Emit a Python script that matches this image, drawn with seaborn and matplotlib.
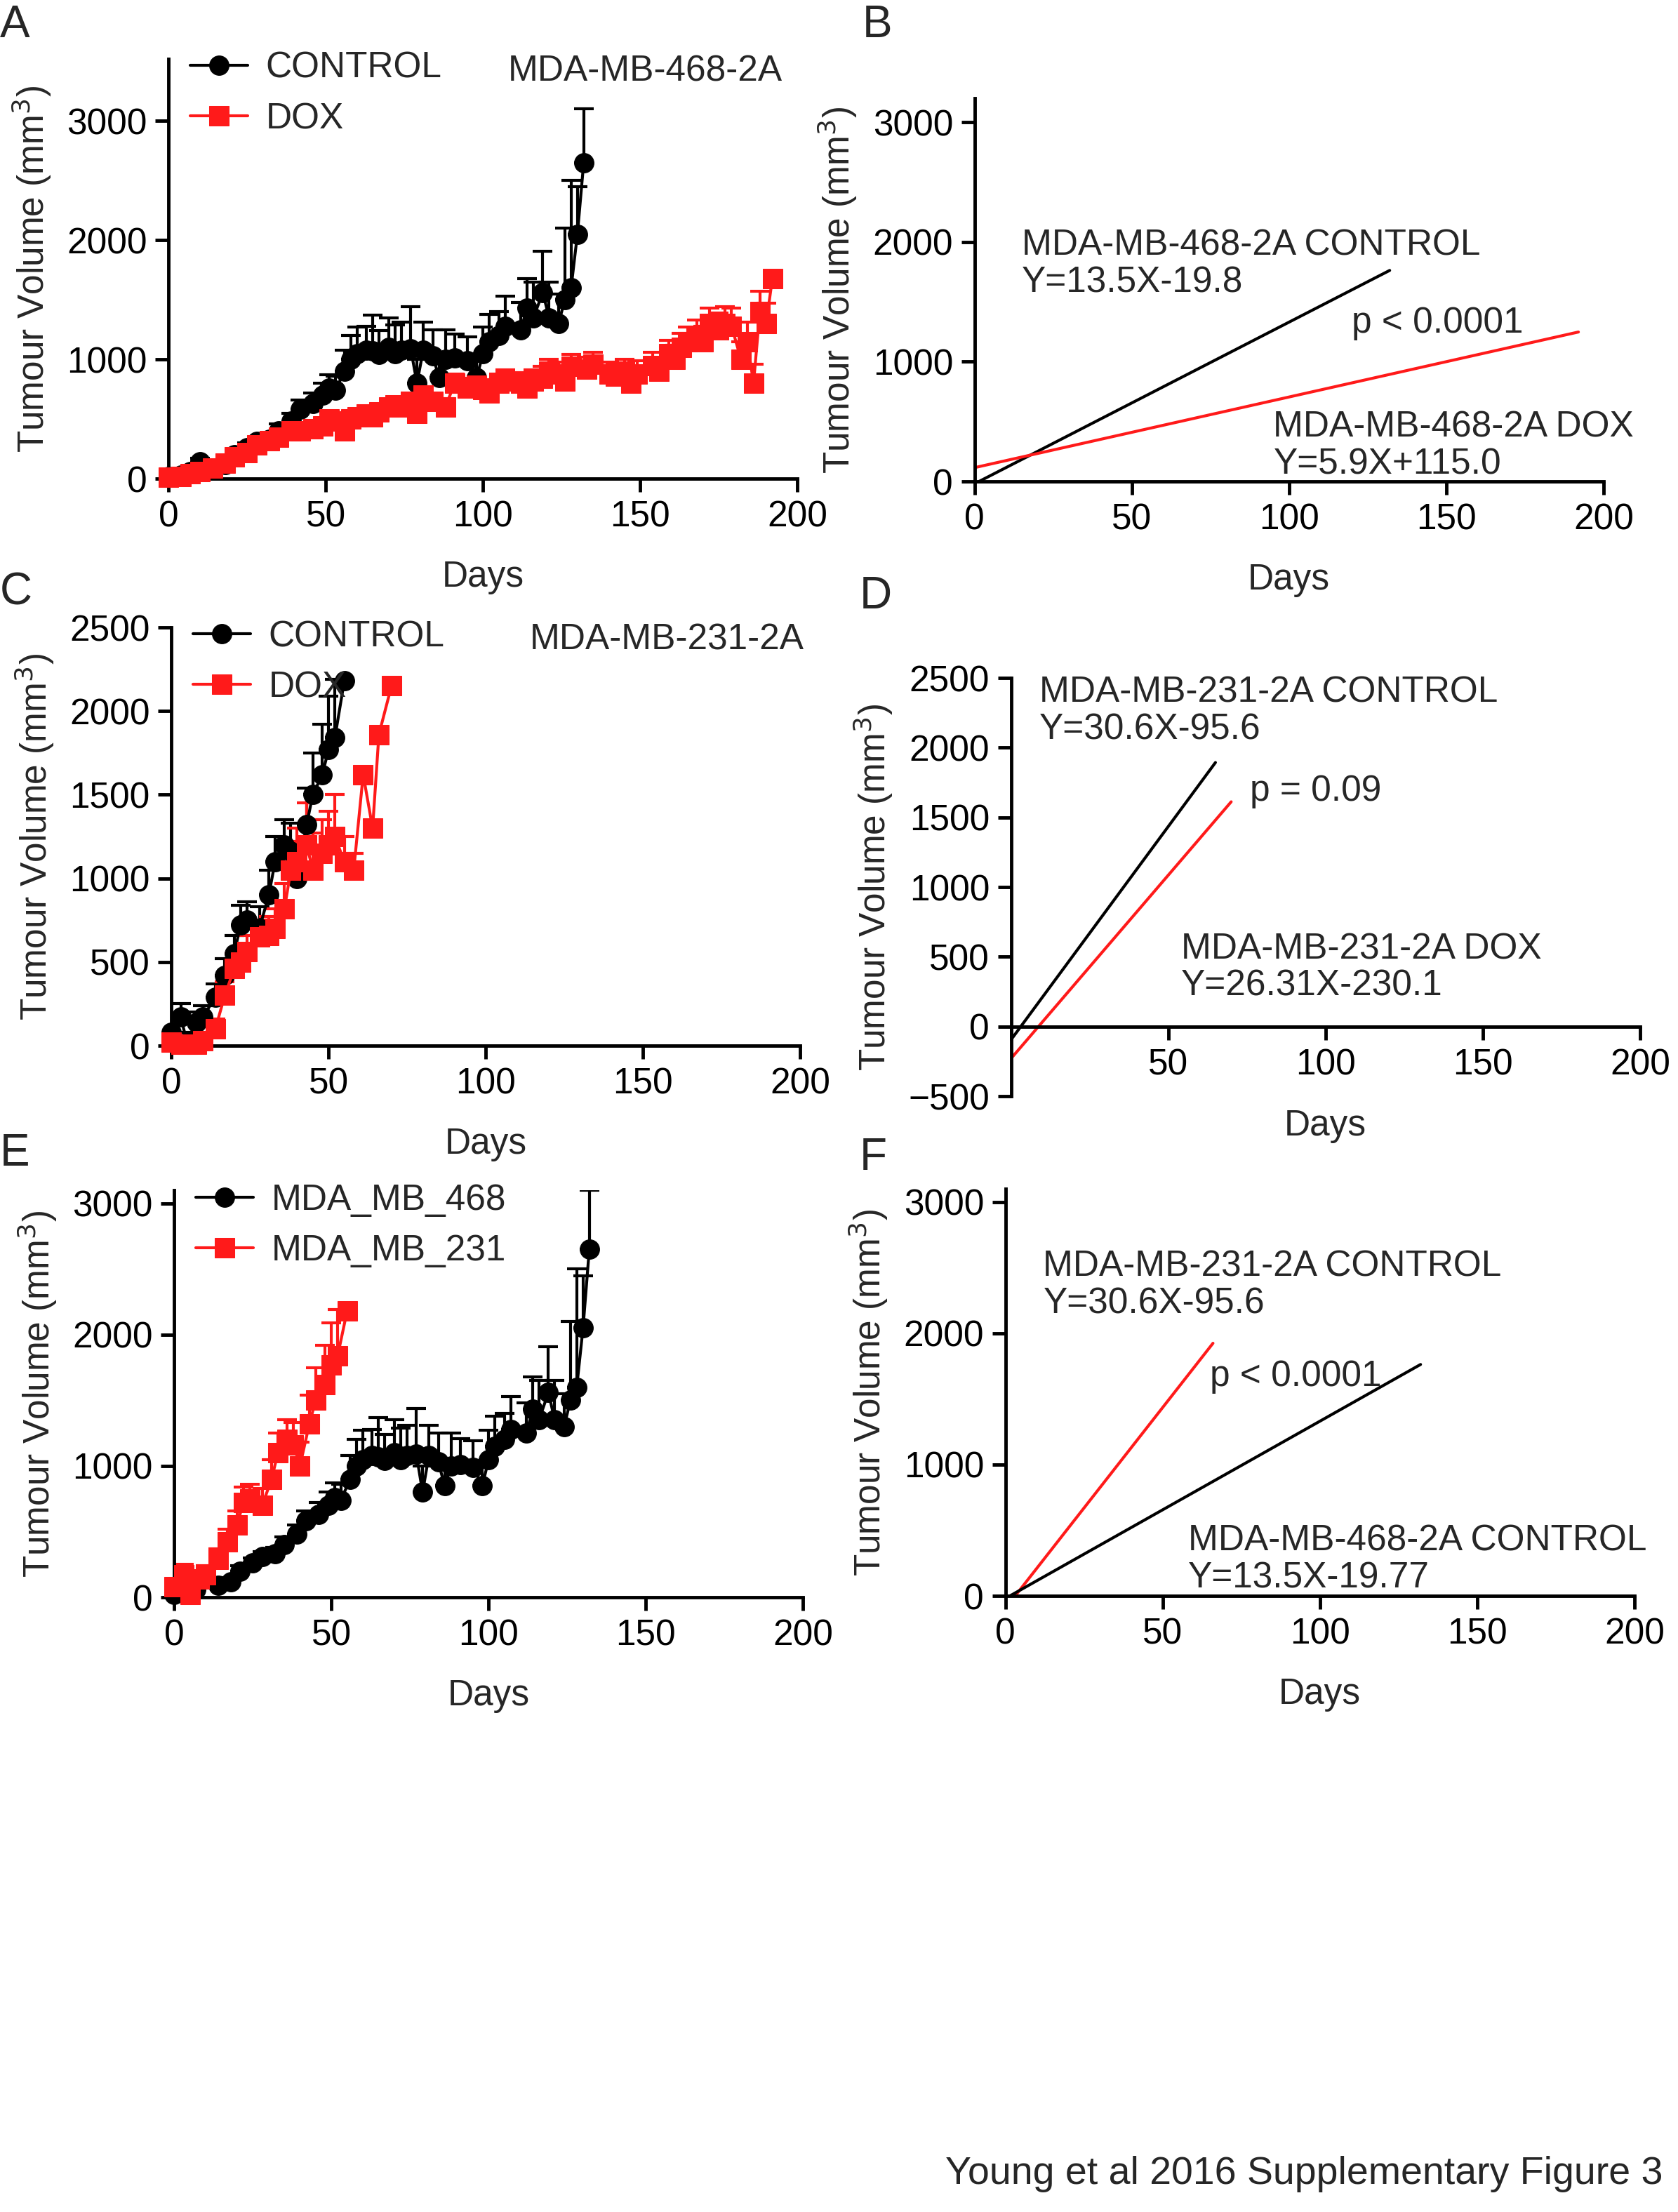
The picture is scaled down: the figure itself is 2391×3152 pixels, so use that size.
import numpy as np
import pandas as pd
import matplotlib
matplotlib.use("Agg")
import matplotlib.pyplot as plt
import seaborn as sns

sns.set_theme(style="ticks")
plt.rcParams['font.family'] = ['Liberation Sans', 'DejaVu Sans']

# ---------------- data ----------------
days_468c = [0,4,7,10,14,18,21,25,28,32,35,39,42,46,49,51,53,56,58,60,63,65,67,70,72,74,77,79,81,84,86,88,91,95,98,100,102,105,107,112,114,116,119,121,124,126,128,130,132]
vol_468c  = [20,30,60,140,90,120,200,260,310,330,400,480,580,630,700,760,740,900,1000,1050,1080,1070,1040,1100,1050,1080,1090,800,1080,1030,850,1000,1010,990,850,1050,1150,1200,1280,1250,1430,1350,1560,1350,1300,1500,1600,2050,2650]
err_468c  = [10,10,20,30,30,30,40,40,40,50,60,70,80,90,100,110,120,180,200,220,200,300,200,250,240,230,350,200,230,220,200,250,200,200,150,220,230,200,250,230,250,300,350,300,250,600,900,400,450]

days_468d = [0,4,7,10,14,18,21,25,28,32,35,39,42,46,49,51,53,56,58,60,63,65,67,70,72,74,77,79,81,84,88,91,95,98,100,102,105,107,112,114,116,119,121,124,126,128,133,135,140,142,145,147,149,154,156,159,161,163,165,168,170,172,175,177,179,182,184,186,188,190,192]
vol_468d  = [10,20,40,60,90,130,180,220,280,320,350,400,400,420,440,500,480,400,500,520,540,520,560,600,620,600,650,550,700,650,600,800,760,780,750,720,800,820,800,760,820,840,900,880,820,940,920,960,880,860,900,800,880,950,900,1050,1000,1100,1150,1200,1150,1300,1250,1300,1280,1000,1150,800,1400,1300,1680]
err_468d  = [10,10,10,20,20,20,30,30,30,40,40,40,40,50,50,50,50,50,50,60,60,60,60,60,60,60,70,70,70,70,70,80,80,80,80,80,80,90,90,90,90,100,100,100,100,100,100,100,100,100,100,100,110,110,110,110,120,120,120,130,130,130,140,140,150,150,160,160,170,170,60]

days_231c = [0,3,5,8,10,14,17,20,22,24,28,31,33,36,38,40,43,45,48,50,52,55]
vol_231c  = [80,170,20,140,170,290,420,550,720,750,700,900,1100,1200,1160,1000,1320,1500,1620,1770,1840,2180]
err_231c  = [80,80,60,60,70,80,100,110,120,110,130,150,150,150,170,180,220,250,300,320,350,0]

days_231d = [0,3,5,8,10,14,17,20,22,24,28,31,33,36,38,40,43,45,48,50,52,55,58,61,64,66,70]
vol_231d  = [20,10,10,10,30,100,300,460,500,560,650,660,700,820,1050,1100,1200,1050,1150,1200,1250,1100,1050,1620,1300,1860,2150]
err_231d  = [20,20,20,20,30,60,80,90,90,100,100,110,120,150,170,200,250,220,200,200,250,150,100,0,0,0,0]

fits_B = [("MDA-MB-468-2A CONTROL", 13.5, -19.8, 0, 132, "black"),
          ("MDA-MB-468-2A DOX", 5.9, 115.0, 0, 192, "#ff1a1a")]
fits_D = [("MDA-MB-231-2A CONTROL", 30.6, -95.6, 0, 65, "black"),
          ("MDA-MB-231-2A DOX", 26.31, -230.1, 0, 70, "#ff1a1a")]
fits_F = [("MDA-MB-231-2A CONTROL", 30.6, -95.6, 3, 66, "#ff1a1a"),
          ("MDA-MB-468-2A CONTROL", 13.5, -19.77, 1.5, 132, "black")]

RED = "#ff1a1a"
FS = 37
W, H = 1195, 1576

fig = plt.figure(figsize=(23.91, 31.52), dpi=100)

def make_ax(x0, x200, ybot, ytop):
    return fig.add_axes([x0 / W, 1 - ybot / H, (x200 - x0) / W, (ybot - ytop) / H])

def style(ax, yticks, ylim):
    sns.despine(ax=ax)
    for s in ['left', 'bottom']:
        ax.spines[s].set_linewidth(3.5)
        ax.spines[s].set_color('black')
    ax.tick_params(axis='both', width=3.5, length=14, labelsize=FS, colors='black', direction='out', pad=8)
    ax.set_xlim(0, 200)
    ax.set_xticks([0, 50, 100, 150, 200])
    ax.set_yticks(yticks)
    ax.set_ylim(*ylim)
    ax.set_xlabel("Days", fontsize=FS, labelpad=26)
    ax.set_ylabel("Tumour Volume (mm$^3$)", fontsize=FS, labelpad=14)
    ax.set_facecolor('white')
    ax.grid(False)

def growth(ax, series, legend_labels):
    for (d, v, e, c, m), lab in zip(series, legend_labels):
        df = pd.DataFrame({"Days": d, "Vol": v})
        ax.errorbar(d, v, yerr=[np.zeros(len(e)), e], fmt='none', ecolor=c, elinewidth=3, capsize=10, capthick=3, zorder=2)
        sns.lineplot(data=df, x="Days", y="Vol", ax=ax, color=c, marker=m, markersize=20,
                     markeredgecolor=c, linewidth=3, label=lab, zorder=3, clip_on=False)
    ax.legend(loc='upper left', bbox_to_anchor=(0.0, 1.07), frameon=False, fontsize=FS,
              handlelength=1.6, handletextpad=0.5, borderaxespad=0.2, labelspacing=0.45)

def fits(ax, fl):
    for name, s, b, x0, x1, c in fl:
        xs = np.array([x0, x1])
        df = pd.DataFrame({"Days": xs, "Vol": s * xs + b})
        sns.lineplot(data=df, x="Days", y="Vol", ax=ax, color=c, linewidth=3, legend=False)

# Panel A
axA = make_ax(120, 568, 341, 42)
growth(axA, [(days_468c, vol_468c, err_468c, 'black', 'o'),
             (days_468d, vol_468d, err_468d, RED, 's')], ["CONTROL", "DOX"])
style(axA, [0, 1000, 2000, 3000], (0, 3520))
axA.text(0.54, 0.97, "MDA-MB-468-2A", transform=axA.transAxes, fontsize=FS, va='center')

# Panel B
axB = make_ax(694, 1142, 343, 70)
fits(axB, fits_B)
style(axB, [0, 1000, 2000, 3000], (0, 3200))
axB.text(15, 1580, "MDA-MB-468-2A CONTROL\nY=13.5X-19.8", fontsize=FS, linespacing=1.1)
axB.text(120, 1240, "p < 0.0001", fontsize=FS)
axB.text(95, 60, "MDA-MB-468-2A DOX\nY=5.9X+115.0", fontsize=FS, linespacing=1.1)

# Panel C
axC = make_ax(122, 570, 745, 447)
growth(axC, [(days_231c, vol_231c, err_231c, 'black', 'o'),
             (days_231d, vol_231d, err_231d, RED, 's')], ["CONTROL", "DOX"])
style(axC, [0, 500, 1000, 1500, 2000, 2500], (0, 2500))
axC.text(0.57, 0.97, "MDA-MB-231-2A", transform=axC.transAxes, fontsize=FS, va='center')

# Panel D
axD = make_ax(720, 1168, 781, 483)
fits(axD, fits_D)
style(axD, [-500, 0, 500, 1000, 1500, 2000, 2500], (-500, 2500))
axD.spines['bottom'].set_position(('data', 0))
axD.set_xticklabels(["", "50", "100", "150", "200"])
axD.xaxis.set_label_coords(0.5, -0.03)
axD.text(9, 2060, "MDA-MB-231-2A CONTROL\nY=30.6X-95.6", fontsize=FS, linespacing=1.1)
axD.text(76, 1620, "p = 0.09", fontsize=FS)
axD.text(54, 220, "MDA-MB-231-2A DOX\nY=26.31X-230.1", fontsize=FS, linespacing=1.1)

# Panel E
axE = make_ax(124, 572, 1138, 848)
growth(axE, [(days_468c, vol_468c, err_468c, 'black', 'o'),
             (days_231c, vol_231c, err_231c, RED, 's')], ["MDA_MB_468", "MDA_MB_231"])
style(axE, [0, 1000, 2000, 3000], (0, 3100))

# Panel F
axF = make_ax(716, 1164, 1137, 847)
fits(axF, fits_F)
style(axF, [0, 1000, 2000, 3000], (0, 3100))
axF.text(12, 2150, "MDA-MB-231-2A CONTROL\nY=30.6X-95.6", fontsize=FS, linespacing=1.1)
axF.text(65, 1600, "p < 0.0001", fontsize=FS)
axF.text(58, 60, "MDA-MB-468-2A CONTROL\nY=13.5X-19.77", fontsize=FS, linespacing=1.1)

# Panel letters
for lab, x, y in [("A", 0, 18), ("B", 614, 18), ("C", 0, 422), ("D", 612, 425), ("E", 0, 822), ("F", 612, 825)]:
    fig.text(x / W, 1 - y / H, lab, fontsize=46, va='center', ha='left')

fig.text(1184 / W, 1 - 1549 / H, "Young et al 2016 Supplementary Figure 3", fontsize=40, ha='right', va='center')

fig.savefig("out.png", dpi=100, facecolor='white')
